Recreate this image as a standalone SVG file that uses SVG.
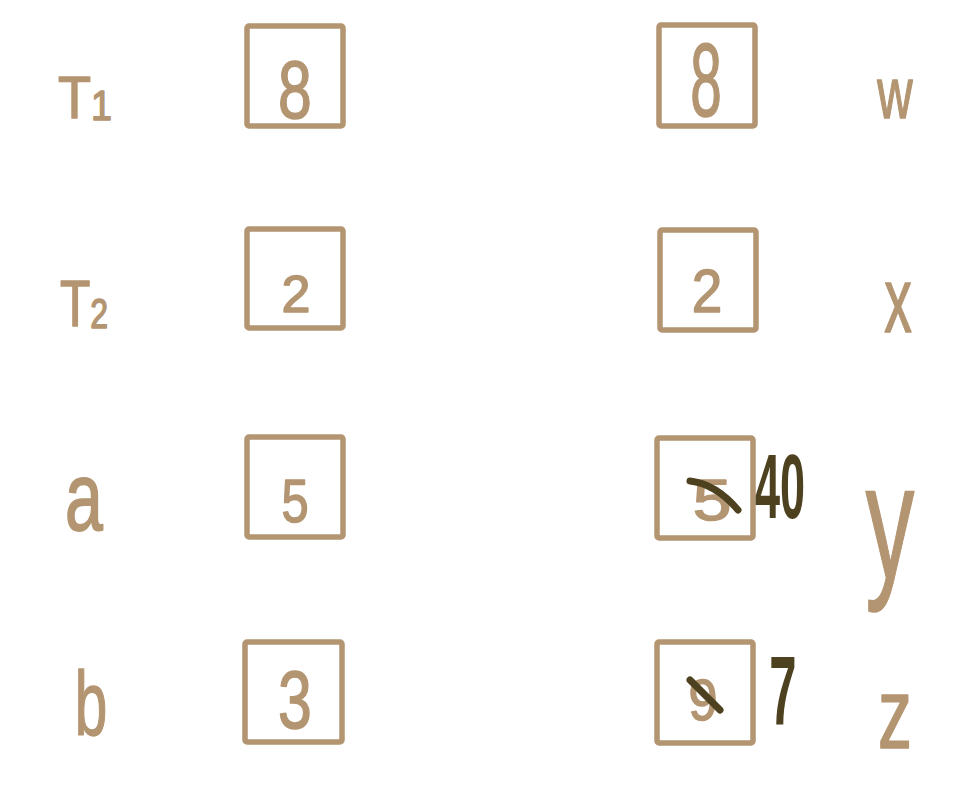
<svg xmlns="http://www.w3.org/2000/svg" width="970" height="788" viewBox="0 0 970 788">
<style>
.box{fill:none;stroke:#b39571;stroke-width:5.5;stroke-linejoin:round}
.lbl{font-family:"Liberation Sans",Arial,sans-serif;fill:#b39571;stroke:#b39571;stroke-width:1.5;stroke-linejoin:round;text-anchor:middle}
.num{font-family:"Liberation Sans",Arial,sans-serif;fill:#b39571;stroke:#b39571;stroke-width:1.5;stroke-linejoin:round;text-anchor:middle}
.new{font-family:"Liberation Sans",Arial,sans-serif;fill:#4d411f;font-weight:bold;text-anchor:middle}
.cross{stroke:#4d411f;stroke-width:7;stroke-linecap:round;fill:none}
</style>
<rect width="970" height="788" fill="#ffffff"/>
<g id="label-T1"><text class="lbl" transform="translate(85,118) scale(0.9,1)" font-size="60">T<tspan font-size="42" dy="2">1</tspan></text></g>
<g id="label-T2"><text class="lbl" transform="translate(84,326) scale(0.8,1.05)" font-size="62">T<tspan font-size="40" dy="2">2</tspan></text></g>
<g id="label-a"><text class="lbl" transform="translate(84,530) scale(0.85,1.2)" font-size="80">a</text></g>
<g id="label-b"><text class="lbl" transform="translate(91,735) scale(0.65,1)" font-size="90">b</text></g>
<g id="label-w"><text class="lbl" transform="translate(895,118) scale(0.68,1)" font-size="72">w</text></g>
<g id="label-x"><text class="lbl" transform="translate(898,332) scale(0.6,1)" font-size="92">x</text></g>
<g id="label-y"><text class="lbl" transform="translate(890,578) scale(0.6,1)" font-size="163">y</text></g>
<g id="label-z"><text class="lbl" transform="translate(895,748) scale(0.68,1)" font-size="100">z</text></g>

<g id="T1-box"><rect class="box" x="247" y="26" width="96" height="100" rx="2"/><text class="num" transform="translate(295,118) scale(0.75,1)" font-size="81">8</text></g>
<g id="T2-box"><rect class="box" x="247" y="229" width="96" height="99" rx="2"/><text class="num" transform="translate(296,312)" font-size="52">2</text></g>
<g id="a-box"><rect class="box" x="247" y="437" width="96" height="100" rx="2"/><text class="num" transform="translate(295,522) scale(0.8,1)" font-size="61">5</text></g>
<g id="b-box"><rect class="box" x="245" y="642" width="97" height="100" rx="2"/><text class="num" transform="translate(295,728) scale(0.75,1)" font-size="81">3</text></g>

<g id="w-box"><rect class="box" x="659" y="25" width="96" height="101" rx="2"/><text class="num" transform="translate(706,116) scale(0.55,1)" font-size="103">8</text></g>
<g id="x-box"><rect class="box" x="660" y="230" width="96" height="100" rx="2"/><text class="num" transform="translate(707,312) scale(0.9,1)" font-size="61">2</text></g>
<g id="y-box"><rect class="box" x="657" y="438" width="96" height="100" rx="2"/><text class="num" transform="translate(712,520) scale(1.2,1)" font-size="58">5</text><path class="cross" d="M690,481 Q716,484 738,510"/><text class="new" transform="translate(780,518) scale(0.5,1)" font-size="90">40</text></g>
<g id="z-box"><rect class="box" x="657" y="642" width="96" height="101" rx="2"/><text class="num" transform="translate(703,720) scale(0.9,1)" font-size="58">9</text><path class="cross" d="M690,680 L720,710"/><text class="new" transform="translate(783,725) scale(0.5,1)" font-size="98">7</text></g>
<g id="connectors"></g>
</svg>
